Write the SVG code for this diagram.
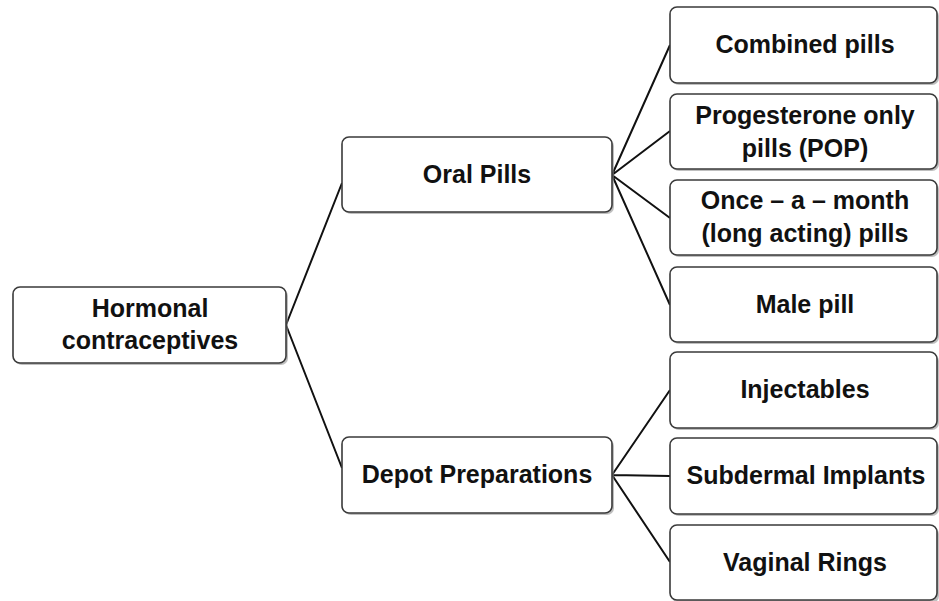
<svg xmlns="http://www.w3.org/2000/svg" width="939" height="601" viewBox="0 0 939 601">
<style>
.box{fill:#fff;stroke:#3a3a3a;stroke-width:1.6}
.sh{fill:#8a8a8a;opacity:0.55}
.t{font-family:"Liberation Sans",Arial,sans-serif;font-weight:bold;font-size:25px;fill:#111;text-anchor:middle}
.c{stroke:#111;stroke-width:2;fill:none}
</style>
<rect width="939" height="601" fill="#fff"/>
<g id="connectors">
<path class="c" d="M286 325 L342 183 M286 325 L342 468"/>
<path class="c" d="M612 175 L670 45 M612 175 L670 131 M612 175 L670 218 M612 175 L670 305"/>
<path class="c" d="M612 475 L670 390 M612 475 L670 476 M612 475 L670 562"/>
</g>
<g id="hormonal">
<rect class="sh" x="15" y="289" width="273" height="76" rx="7"/>
<rect class="box" x="13" y="287" width="273" height="76" rx="7"/>
<text class="t" x="150" y="317">Hormonal</text>
<text class="t" x="150" y="349">contraceptives</text>
</g>
<g id="oral">
<rect class="sh" x="344" y="139" width="270" height="75" rx="7"/>
<rect class="box" x="342" y="137" width="270" height="75" rx="7"/>
<text class="t" x="477" y="183">Oral Pills</text>
</g>
<g id="depot">
<rect class="sh" x="344" y="439" width="270" height="76" rx="7"/>
<rect class="box" x="342" y="437" width="270" height="76" rx="7"/>
<text class="t" x="477" y="483">Depot Preparations</text>
</g>
<g id="combined">
<rect class="sh" x="672" y="9" width="267" height="76" rx="7"/>
<rect class="box" x="670" y="7" width="267" height="76" rx="7"/>
<text class="t" x="805" y="53">Combined pills</text>
</g>
<g id="pop">
<rect class="sh" x="672" y="96" width="267" height="75" rx="7"/>
<rect class="box" x="670" y="94" width="267" height="75" rx="7"/>
<text class="t" x="805" y="124">Progesterone only</text>
<text class="t" x="805" y="157">pills (POP)</text>
</g>
<g id="once">
<rect class="sh" x="672" y="182" width="267" height="75" rx="7"/>
<rect class="box" x="670" y="180" width="267" height="75" rx="7"/>
<text class="t" x="805" y="209">Once – a – month</text>
<text class="t" x="805" y="242">(long acting) pills</text>
</g>
<g id="male">
<rect class="sh" x="672" y="269" width="267" height="75" rx="7"/>
<rect class="box" x="670" y="267" width="267" height="75" rx="7"/>
<text class="t" x="805" y="313">Male pill</text>
</g>
<g id="injectables">
<rect class="sh" x="672" y="354" width="267" height="76" rx="7"/>
<rect class="box" x="670" y="352" width="267" height="76" rx="7"/>
<text class="t" x="805" y="398">Injectables</text>
</g>
<g id="subdermal">
<rect class="sh" x="672" y="440" width="267" height="76" rx="7"/>
<rect class="box" x="670" y="438" width="267" height="76" rx="7"/>
<text class="t" x="806" y="484">Subdermal Implants</text>
</g>
<g id="vaginal">
<rect class="sh" x="672" y="527" width="267" height="76" rx="7"/>
<rect class="box" x="670" y="525" width="267" height="75" rx="7"/>
<text class="t" x="805" y="571">Vaginal Rings</text>
</g>
</svg>
